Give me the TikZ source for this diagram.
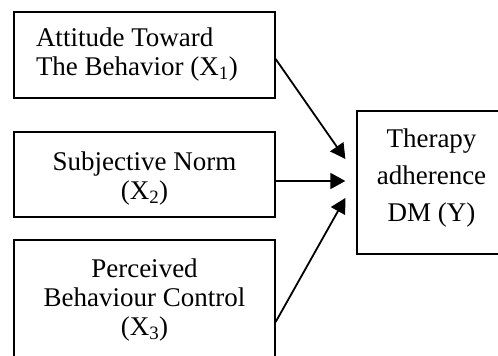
\documentclass[tikz,border=0pt]{standalone}
\usepackage{fontspec}
\setmainfont{Liberation Serif}
\usetikzlibrary{positioning,arrows.meta}

\begin{document}
\begin{tikzpicture}[x=1pt, y=1pt,
  factor/.style={draw, line width=1.3pt, minimum width=261pt, text width=217pt,
    inner xsep=22pt, font=\fontsize{27}{29}\selectfont},
  outcome/.style={draw, line width=1.3pt, minimum width=149pt, minimum height=143pt,
    text width=129pt, inner xsep=10pt, align=flush center, text depth=88pt,
    font=\fontsize{27}{37}\selectfont},
  arrow/.style={-{Triangle[length=15pt, width=16pt]}, line width=1.8pt}
]
\clip (0,0) rectangle (498,356);

% Predictors on the left
\node[factor, align=flush left, minimum height=86pt]
  (attitude) at (144.5,301) {Attitude Toward\\The Behavior (X\textsubscript{1})};
\node[factor, align=flush center, minimum height=85pt, text height=26.5pt]
  (norm) at (144.5,181.5) {Subjective Norm\\(X\textsubscript{2})};
% text of the middle box is cut at the bottom
\fill[white] ([shift={(2,2)}]norm.south west) rectangle ([shift={(-2,12)}]norm.south east);
\node[factor, align=flush center, minimum height=120pt]
  (control) at (144.5,56) {Perceived\\Behaviour Control\\(X\textsubscript{3})};

% Outcome
\node[outcome] (adherence) at (431.5,173.5) {Therapy\\adherence\\DM (Y)};

% Arrow ends in front of the outcome box
\coordinate (in1) at ([xshift=-11pt, yshift=23.5pt]adherence.west);
\coordinate (in2) at ([xshift=-11pt, yshift=1.5pt]adherence.west);
\coordinate (in3) at ([xshift=-11pt, yshift=-15.5pt]adherence.west);

% Arrows
\draw[arrow] ([yshift=-4pt]attitude.east) -- (in1);
\draw[arrow] ([yshift=-6.5pt]norm.east) -- (in2);
\draw[arrow] ([yshift=-22pt]control.east) -- (in3);
\end{tikzpicture}
\end{document}
